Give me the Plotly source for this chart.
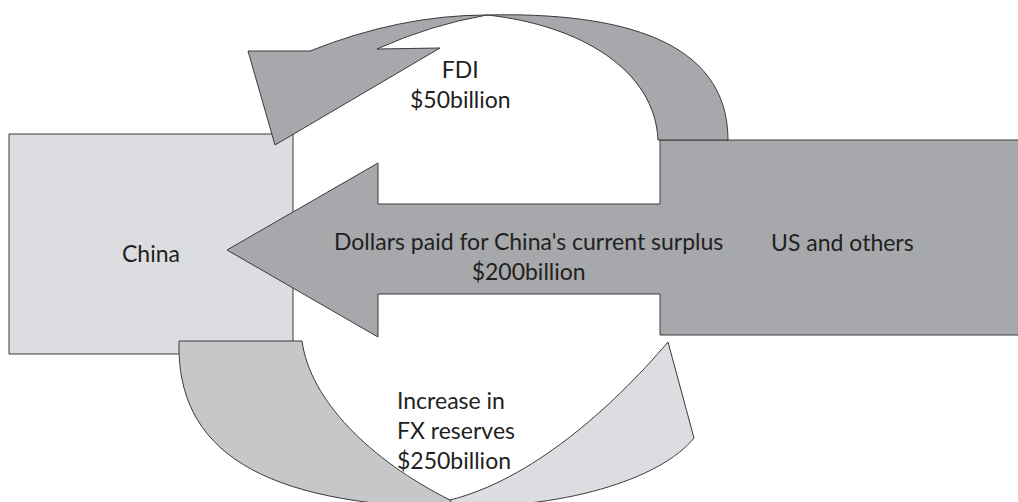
import plotly.graph_objects as go

# ---- data ----
nodes = ["China", "US and others"]
flow_labels = ["FDI", "Dollars paid for China's current surplus", "Increase in FX reserves"]
flow_amounts = [50, 200, 250]  # $ billion
unit = "billion"

W, H = 1018, 502
EDGE = "#3a3a3a"
DARK = "#a7a8ab"
MID = "#c6c7c9"
LIGHT = "#dcdde0"
TXT = "#231f20"
FONT = "Lato"
FS = 23

fig = go.Figure()
fig.add_trace(go.Scatter(x=[0, W], y=[0, H], mode="markers", marker=dict(opacity=0), hoverinfo="skip", showlegend=False))

shapes = []
def add_path(path, fill):
    shapes.append(dict(type="path", path=path, xref="x", yref="y", fillcolor=fill,
                       line=dict(color=EDGE, width=1), layer="above"))

# China box
shapes.append(dict(type="rect", x0=9, y0=134, x1=293, y1=354, xref="x", yref="y",
                   fillcolor=LIGHT, line=dict(color=EDGE, width=1), layer="above"))
# US block + big arrow
add_path("M 1100,140 L 660,140 L 660,204 L 378,204 L 378,163 L 227,250 L 378,337 L 378,294 "
         "L 660,294 L 660,335 L 1100,335 Z", DARK)
# FDI curved arrow
add_path("M 728,140 C 728,40 620,12 487,15 Q 400,15 310,51 L 248,51 L 275,145 L 440,48 L 377,49 "
         "Q 430,25 487,15 C 580,25 655,70 658,140 Z", DARK)
# FX reserves ribbon
add_path("M 450,500 C 530,480 610,410 668,342 L 694,438 C 660,480 560,510 450,506 Z", LIGHT)
add_path("M 179,341 L 302,341 C 310,400 370,460 450,500 L 455,508 C 260,505 176,450 179,341 Z", MID)

def money(v):
    return f"${v}{unit}"

ann = []
def txt(x, y, s, xanchor="center", align="center"):
    ann.append(dict(x=x, y=y, xref="x", yref="y", text=s, showarrow=False,
                    xanchor=xanchor, yanchor="middle", align=align,
                    font=dict(family=FONT, size=FS, color=TXT)))

txt(151, 253, nodes[0])
txt(842, 242, nodes[1])
txt(460, 84, flow_labels[0] + "<br>" + money(flow_amounts[0]))
txt(528, 256, flow_labels[1] + "<br>" + money(flow_amounts[1]))
words = flow_labels[2].split(" ")
txt(395, 430, " ".join(words[:2]) + "<br>" + " ".join(words[2:]) + "<br>" + money(flow_amounts[2]),
    "left", "left")

fig.update_layout(
    width=W, height=H, margin=dict(l=0, r=0, t=0, b=0),
    paper_bgcolor="white", plot_bgcolor="white",
    xaxis=dict(range=[0, W], visible=False, fixedrange=True),
    yaxis=dict(range=[H, 0], visible=False, fixedrange=True),
    shapes=shapes, annotations=ann, showlegend=False,
)
fig.write_html("out.html",
               post_script="document.body.style.margin='0';document.body.style.overflow='hidden';",
               config={"displayModeBar": False})
